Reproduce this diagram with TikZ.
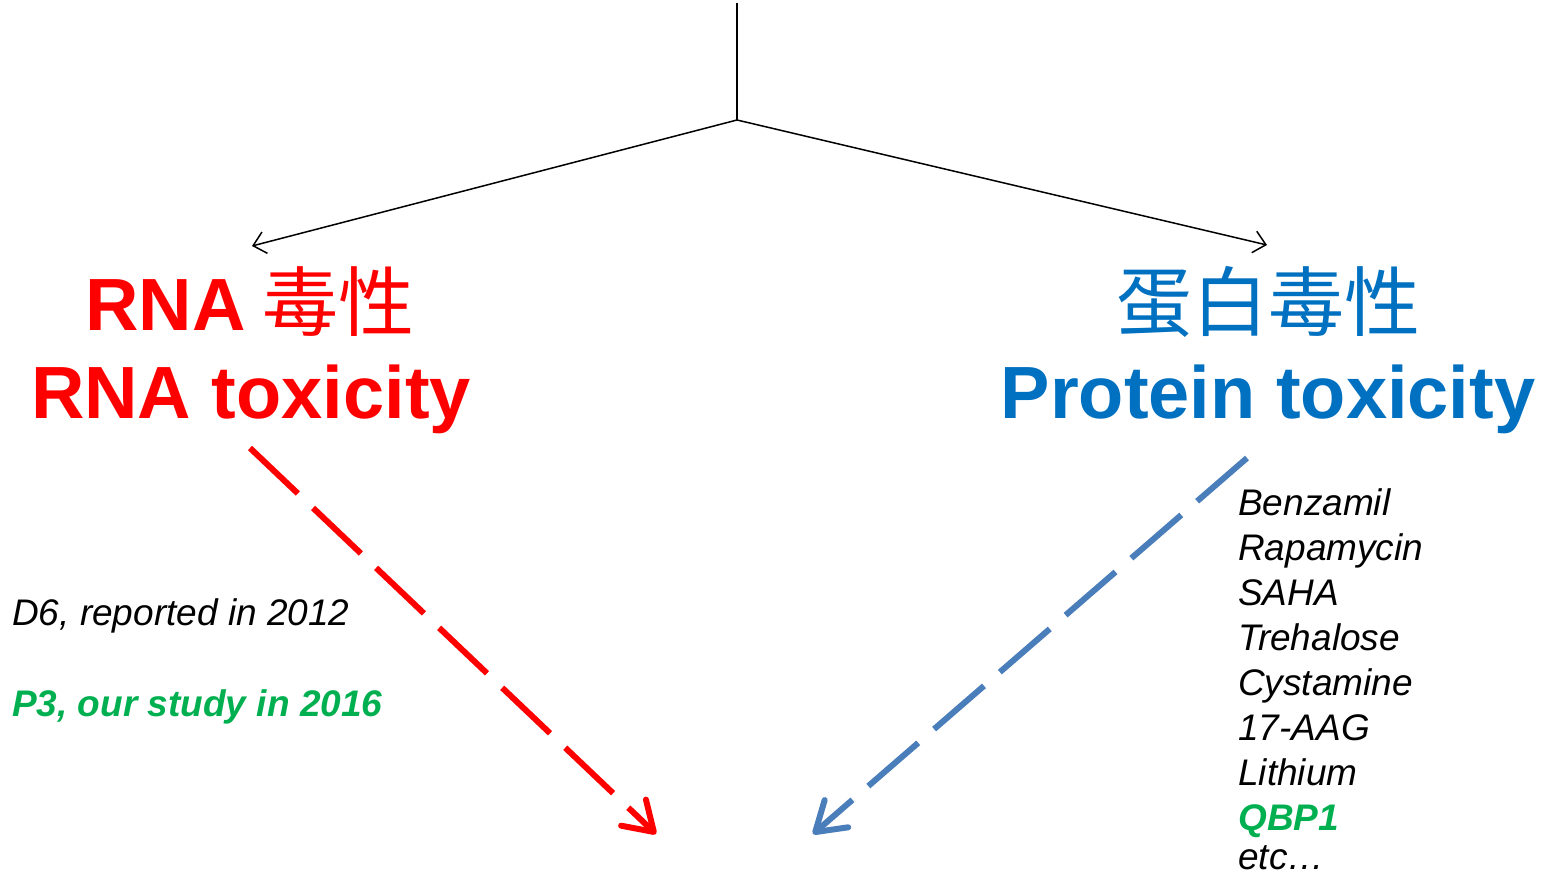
\documentclass[tikz,border=0pt]{standalone}
\usepackage{fontspec}
\setmainfont{Liberation Sans}
\newfontfamily\cjk{Noto Sans CJK SC}
\usetikzlibrary{arrows.meta}
\definecolor{rred}{RGB}{255,0,0}
\definecolor{pblue}{RGB}{0,112,192}
\definecolor{dblue}{RGB}{74,126,187}
\definecolor{ggreen}{RGB}{0,176,80}
\tikzset{
  thinarrow/.style={line width=1.5pt, -{Straight Barb[length=12pt,width=22pt,line width=1.5pt]}},
  dasharrow/.style={line width=6pt, dash pattern=on 66pt off 21pt,
     -{Straight Barb[length=28pt,width=36pt,line width=6pt,round]}},
  big/.style={inner sep=0pt, font=\fontsize{74}{80}\selectfont\bfseries},
  bigzh/.style={inner sep=0pt, font=\fontsize{76}{80}\selectfont\cjk},
  small/.style={inner sep=0pt, anchor=base west, font=\fontsize{37}{45}\selectfont\itshape},
  smallgreen/.style={small, text=ggreen, font=\fontsize{37}{45}\selectfont\bfseries\itshape},
}
\begin{document}
\begin{tikzpicture}[x=1pt,y=-1pt]
\useasboundingbox[fill=white] (0,0) rectangle (1545,875);
% connectors of the top
\coordinate (top) at (737,3);
\coordinate (split) at (737,120);
\coordinate (lend) at (252,246);
\coordinate (rend) at (1267,245);
\draw[line width=1.5pt] (top) -- (split);
\draw[thinarrow] (split) -- (lend);
\draw[thinarrow] (split) -- (rend);
% titles
\node[bigzh, anchor=base, text=rred] (rnazh) at (250,330) {{\fontsize{74}{80}\selectfont\bfseries\rmfamily RNA} 毒性};
\node[big, anchor=base, text=rred] (rnaen) at (251,418) {RNA toxicity};
\node[bigzh, anchor=base, text=pblue] (protzh) at (1268,330) {蛋白毒性};
\node[big, anchor=base, text=pblue] (proten) at (1268,418) {Protein toxicity};
% dashed arrows
\coordinate (rs) at (250,448);
\coordinate (rt) at (656,834);
\coordinate (bs) at (1247,458);
\coordinate (bt) at (813,834);
\draw[dasharrow, draw=rred] (rs) -- (rt);
\draw[dasharrow, draw=dblue] (bs) -- (bt);
% left notes
\node[small] (d6) at (12,625) {D6, reported in 2012};
\node[smallgreen] (p3) at (12,716) {P3, our study in 2016};
% right list
\node[small] (l1) at (1238,515) {Benzamil};
\node[small] (l2) at (1238,560) {Rapamycin};
\node[small] (l3) at (1238,605) {SAHA};
\node[small] (l4) at (1238,650) {Trehalose};
\node[small] (l5) at (1238,695) {Cystamine};
\node[small] (l6) at (1238,740) {17-AAG};
\node[small] (l7) at (1238,785) {Lithium};
\node[smallgreen] (l8) at (1238,830) {QBP1};
\node[small] (l9) at (1238,869) {etc…};
\end{tikzpicture}
\end{document}
